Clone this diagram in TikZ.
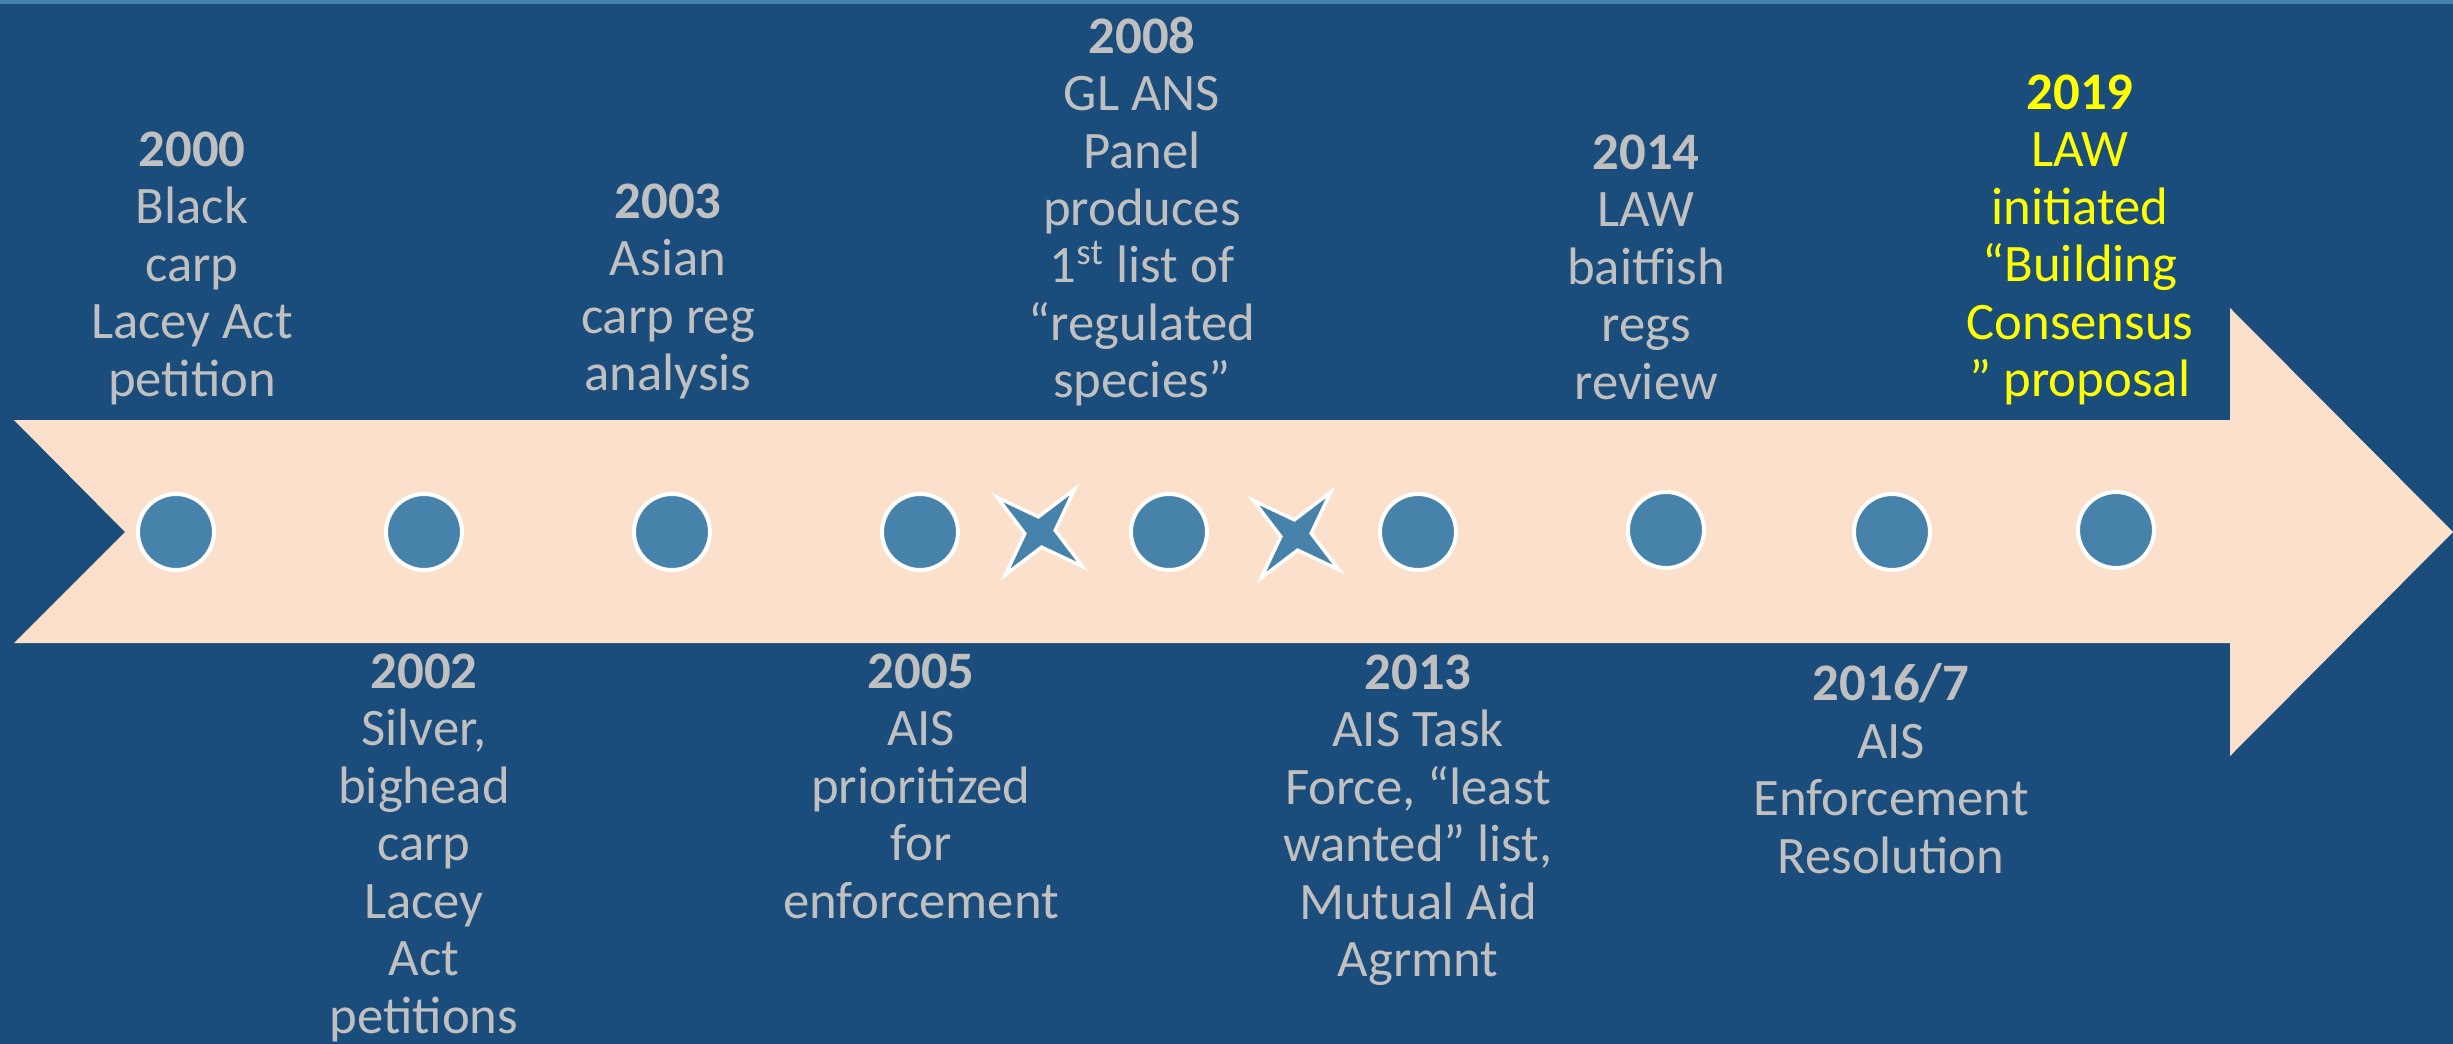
\documentclass[tikz,border=0pt]{standalone}
\usepackage{fontspec}
\setmainfont{Carlito}
\usetikzlibrary{shapes.geometric}
\definecolor{bgblue}{HTML}{1A4C7C}
\definecolor{stripeblue}{HTML}{4682A9}
\definecolor{peach}{HTML}{FBE1CC}
\definecolor{dotblue}{HTML}{4682AA}
\definecolor{labelgray}{HTML}{C0C0C0}
\definecolor{highlight}{HTML}{FFFF00}
\tikzset{
  event dot/.style={circle,fill=dotblue,draw=white,line width=0.4mm,minimum size=7.6mm,inner sep=0pt},
  gap star/.style={star,star points=4,star point ratio=3.6,shape border rotate=51,minimum size=11mm,inner sep=0pt,fill=dotblue,draw=white,line width=0.35mm},
  event text/.style={align=center,inner sep=0pt,text=labelgray,font=\fontsize{15}{16.35}\selectfont},
}
\begin{document}
\begin{tikzpicture}[x=0.1mm,y=-0.1mm]
\useasboundingbox (0,0) rectangle (2453,1044);
\fill[bgblue] (0,0) rectangle (2453,1044);
\fill[stripeblue] (0,0) rectangle (2453,4);
% timeline arrow
\coordinate (TL) at (14,420);
\coordinate (BT) at (2230,420);
\coordinate (HT) at (2230,308);
\coordinate (tip) at (2453,532);
\coordinate (HB) at (2230,756);
\coordinate (BB) at (2230,643);
\coordinate (BL) at (14,643);
\coordinate (notch) at (125,532);
\fill[peach] (TL) -- (BT) -- (HT) -- (tip) -- (HB) -- (BB) -- (BL) -- (notch) -- cycle;
% dots along the arrow
\node[event dot] (d2000) at (176,532) {};
\node[event dot] (d2002) at (424,532) {};
\node[event dot] (d2003) at (672,532) {};
\node[event dot] (d2005) at (920,532) {};
\node[event dot] (d2008) at (1169,532) {};
\node[event dot] (d2013) at (1418,532) {};
\node[event dot] (d2014) at (1666,530) {};
\node[event dot] (d2016) at (1892,532) {};
\node[event dot] (d2019) at (2116,530) {};
\node[gap star] (s1) at (1040,532) {};
\node[gap star] (s2) at (1296,535) {};
% labels above
\node[event text,anchor=north] (t2000) at (192,131) {\textbf{2000}\\Black\\carp\\Lacey Act\\petition};
\node[event text,anchor=north] (t2003) at (668,183) {\textbf{2003}\\Asian\\carp reg\\analysis};
\node[event text,anchor=north] (t2008) at (1142,16) {\textbf{2008}\\GL ANS\\Panel\\produces\\1\textsuperscript{st} list of\\“regulated\\species”};
\node[event text,anchor=north] (t2014) at (1646,134) {\textbf{2014}\\LAW\\baitfish\\regs\\review};
\node[event text,anchor=north,text=highlight] (t2019) at (2080,74) {\textbf{2019}\\LAW\\initiated\\“Building\\Consensus\\” proposal};
% labels below
\node[event text,anchor=north] (t2002) at (424,653) {\textbf{2002}\\Silver,\\bighead\\carp\\Lacey\\Act\\petitions};
\node[event text,anchor=north] (t2005) at (921,653) {\textbf{2005}\\AIS\\prioritized\\for\\enforcement};
\node[event text,anchor=north] (t2013) at (1418,654) {\textbf{2013}\\AIS Task\\Force, “least\\wanted” list,\\Mutual Aid\\Agrmnt};
\node[event text,anchor=north] (t2016) at (1891,663) {\textbf{2016/7}\\AIS\\Enforcement\\Resolution};
\end{tikzpicture}
\end{document}
